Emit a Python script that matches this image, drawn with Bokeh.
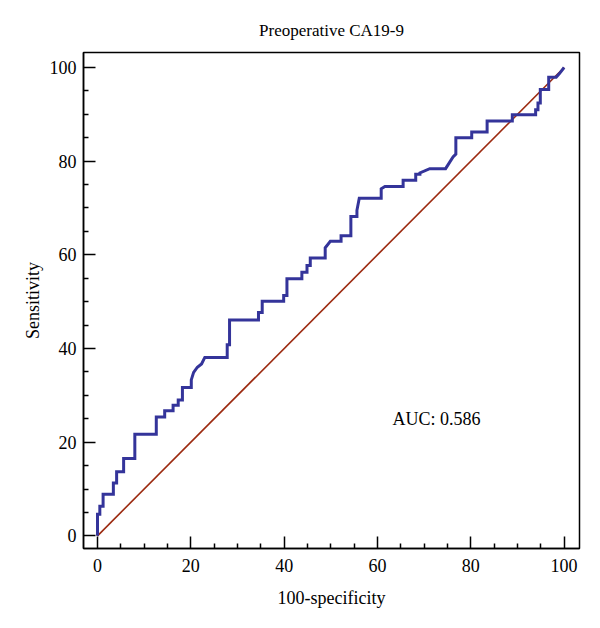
from bokeh.plotting import figure
from bokeh.models import Range1d, Label, FixedTicker
from bokeh.embed import file_html
from bokeh.resources import INLINE

# ROC curve vertices (100-specificity, sensitivity)
fpr = [0, 0, 0.5, 0.5, 1.2, 1.2, 3.4, 3.4, 4.1, 4.1, 5.6, 5.6, 8.0, 8.0,
       12.6, 12.6, 14.4, 14.4, 16.2, 16.2, 17.3, 17.3, 18.2, 18.2, 20.1, 20.1,
       20.6, 21.4, 22.3, 23.0, 27.8, 27.8, 28.3, 28.3, 34.5, 34.5, 35.3, 35.3,
       39.9, 39.9, 40.6, 40.6, 43.8, 43.8, 44.9, 44.9, 45.6, 45.6, 48.8, 48.8,
       49.9, 52.2, 52.2, 54.3, 54.3, 55.6, 55.6, 56.1, 60.8, 60.8, 61.6, 65.5,
       65.5, 68.2, 68.2, 69.1, 69.1, 71.2, 74.6, 76.2, 76.8, 76.8, 80.2, 80.2,
       83.5, 83.5, 88.9, 88.9, 93.9, 93.9, 94.4, 94.4, 94.9, 94.9, 96.7, 96.7,
       98.3, 99.0, 100]
tpr = [0, 4.6, 4.6, 6.3, 6.3, 8.9, 8.9, 11.3, 11.3, 13.7, 13.7, 16.5, 16.5, 21.7,
       21.7, 25.4, 25.4, 26.7, 26.7, 27.9, 27.9, 29.0, 29.0, 31.7, 31.7, 33.3,
       34.9, 36.0, 36.7, 38.1, 38.1, 40.8, 40.8, 46.1, 46.1, 47.7, 47.7, 50.1,
       50.1, 51.3, 51.3, 54.9, 54.9, 56.3, 56.3, 57.7, 57.7, 59.3, 59.3, 61.5,
       62.9, 62.9, 64.1, 64.1, 68.2, 68.2, 69.5, 72.1, 72.1, 74.1, 74.6, 74.6,
       75.9, 75.9, 77.2, 77.2, 77.5, 78.4, 78.4, 80.9, 81.5, 85.0, 85.0, 86.2,
       86.2, 88.6, 88.6, 89.9, 89.9, 91.0, 91.0, 92.4, 92.4, 95.3, 95.3, 97.9,
       97.9, 98.7, 100]
diag = [0, 100]
ticks = [0, 20, 40, 60, 80, 100]
minor = [5, 10, 15, 25, 30, 35, 45, 50, 55, 65, 70, 75, 85, 90, 95]
auc_text = "AUC: 0.586"
title_text = "Preoperative CA19-9"
x_label = "100-specificity"
y_label = "Sensitivity"

FONT = "Liberation Serif"

p = figure(width=584, height=612, output_backend="svg", toolbar_location=None,
           x_range=Range1d(-3, 103.3), y_range=Range1d(-2.7, 103.2),
           min_border_left=83, min_border_right=5, min_border_top=52,
           min_border_bottom=64, title=title_text)
p.title.align = "center"
p.title.vertical_align = "middle"
p.title.text_font = FONT
p.title.text_font_size = "17px"
p.title.text_font_style = "normal"
p.title.text_color = "black"
p.title.standoff = 24

p.grid.visible = False
p.background_fill_color = "white"
p.border_fill_color = "white"
p.outline_line_color = "black"
p.outline_line_width = 1.5

for ax in (p.xaxis[0], p.yaxis[0]):
    ax.ticker = FixedTicker(ticks=ticks, minor_ticks=minor)
    ax.axis_line_width = 1.5
    ax.axis_line_color = "black"
    ax.major_tick_in = 12
    ax.major_tick_out = 0
    ax.minor_tick_in = 5
    ax.minor_tick_out = 0
    ax.major_tick_line_width = 1.5
    ax.minor_tick_line_width = 1.5
    ax.major_label_text_font = FONT
    ax.major_label_text_font_size = "18px"
    ax.major_label_text_color = "black"
    ax.axis_label_text_font = FONT
    ax.axis_label_text_font_size = "18px"
    ax.axis_label_text_font_style = "normal"
    ax.axis_label_text_color = "black"

p.xaxis.axis_label = x_label
p.yaxis.axis_label = y_label
p.xaxis.major_label_standoff = 10
p.yaxis.major_label_standoff = 7
p.xaxis.axis_label_standoff = 13
p.yaxis.axis_label_standoff = 4

p.line(diag, diag, line_color="#9c2a10", line_width=1.6)
p.line(fpr, tpr, line_color="#34349a", line_width=3, line_join="miter")

p.add_layout(Label(x=63.2, y=25, text=auc_text, text_font=FONT,
                   text_font_size="18px", text_baseline="middle",
                   text_color="black"))

open("out.html", "w").write(file_html(p, INLINE))
